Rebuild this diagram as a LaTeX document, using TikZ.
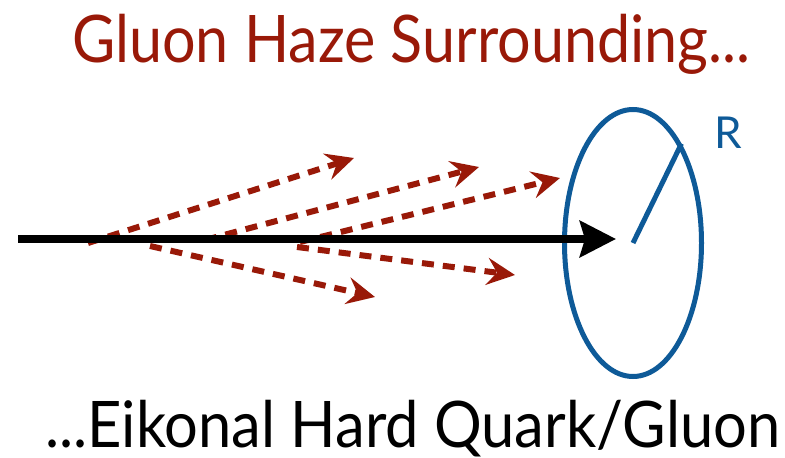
\documentclass[tikz,border=0pt]{standalone}
\usepackage{fontspec}
\setmainfont{Lato}
\usetikzlibrary{arrows.meta,shapes.geometric}
\definecolor{hazered}{RGB}{153,25,8}
\definecolor{diskblue}{RGB}{14,90,152}
\begin{document}
\begin{tikzpicture}[x=1pt,y=-1pt,
  gluon/.style={hazered, line width=6pt, dash pattern=on 12pt off 9pt,
    -{Stealth[length=28pt,width=27pt,inset=10pt]}},
  quark/.style={black, line width=8pt,
    -{Stealth[length=36pt,width=36pt,inset=5pt]}},
  disk/.style={ellipse, draw=diskblue, line width=5pt, minimum width=137pt,
    minimum height=267pt, inner sep=0pt},
  radius/.style={diskblue, line width=5pt},
  label/.style={inner sep=0pt, anchor=base west},
]
\useasboundingbox (0,0) rectangle (785,458);

% title texts
\node[label, text=hazered] (top) at (72,62)
  {\resizebox{678pt}{47pt}{\smash{Gluon Haze Surrounding...}\vphantom{H}}};
\node[label, text=black] (bottom) at (45,447)
  {\resizebox{735pt}{46pt}{\smash{...Eikonal Hard Quark/Gluon}\vphantom{E}}};

% disk of radius R
\node[disk] (disk) at (633,243) {};
\draw[radius] (disk.center) -- (disk.64);
\node[label, text=diskblue, font=\fontsize{44pt}{44pt}\selectfont] (rlab) at (714,148) {R};

% gluon haze
\coordinate (g1s) at (88,243);  \coordinate (g1e) at (354,158);
\coordinate (g2s) at (150,246); \coordinate (g2e) at (375,297);
\coordinate (g3s) at (205,240); \coordinate (g3e) at (479,167);
\coordinate (g4s) at (300,242); \coordinate (g4e) at (560,178);
\coordinate (g5s) at (297,247); \coordinate (g5e) at (515,275);
\foreach \i in {1,...,5} {\draw[gluon] (g\i s) -- (g\i e);}

% eikonal hard parton
\coordinate (qs) at (18,239);
\coordinate (qe) at (616,239);
\draw[quark] (qs) -- (qe);
\end{tikzpicture}
\end{document}
